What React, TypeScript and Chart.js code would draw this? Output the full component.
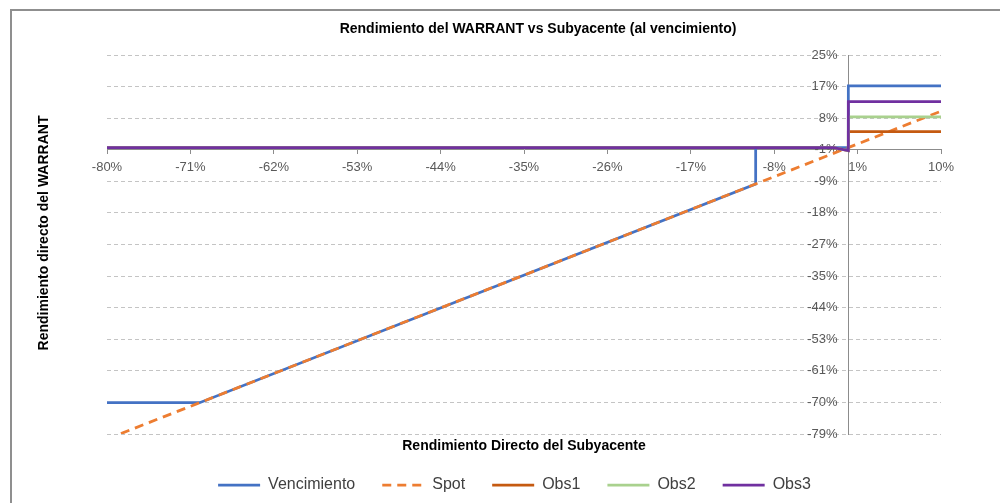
import React, { useEffect, useRef } from "react";
import { Chart, registerables } from "chart.js";

Chart.register(...registerables);

// ---- data ----
const chartTitle = "Rendimiento del WARRANT vs Subyacente (al vencimiento)";
const xAxisTitle = "Rendimiento Directo del Subyacente";
const yAxisTitle = "Rendimiento directo del WARRANT";

const xTickValues = [-80, -71, -62, -53, -44, -35, -26, -17, -8, 1, 10];
const xTickLabels = ["-80%", "-71%", "-62%", "-53%", "-44%", "-35%", "-26%", "-17%", "-8%", "1%", "10%"];
const yMax = 25.4;
const yMin = -78.6;
const yTickLabels = ["25%", "17%", "8%", "-1%", "-9%", "-18%", "-27%", "-35%", "-44%", "-53%", "-61%", "-70%", "-79%"];
const xAxisCross = -0.6; // value of y where the horizontal axis crosses

const vencX = [-80, -70, -10, -10, 0, 0, 10];
const vencY = [-70, -70, -10, 0, 0, 16.9, 16.9];
const spotX = [-80, 10];
const spotY = [-80, 10];
const obsX = [-80, -1.6, 0, 0, 10];
const obs1Y = [0, 0, -0.8, 4.4, 4.4];
const obs2Y = [0, 0, -0.8, 8.4, 8.4];
const obs3Y = [0, 0, -0.8, 12.6, 12.6];

const seriesNames = ["Vencimiento", "Spot", "Obs1", "Obs2", "Obs3"];
const seriesColors = ["#4472C4", "#ED7D31", "#C55A11", "#A9D18E", "#7030A0"];

const FONT = '"Liberation Sans", Arial, sans-serif';

const pts = (xs: number[], ys: number[]) => xs.map((x, i) => ({ x, y: ys[i] }));

const titlesPlugin = {
  id: "textTitles",
  afterDraw(chart: any) {
    const ctx = chart.ctx;
    ctx.save();
    ctx.fillStyle = "#000000";
    ctx.font = `bold 14px ${FONT}`;
    ctx.textAlign = "center";
    ctx.textBaseline = "middle";
    ctx.fillText(chartTitle, 538, 29);
    ctx.translate(44, 233);
    ctx.rotate(-Math.PI / 2);
    ctx.fillText(yAxisTitle, 0, 0);
    ctx.restore();
  },
};

export default function App() {
  const ref = useRef<HTMLCanvasElement | null>(null);

  useEffect(() => {
    if (!ref.current) return;
    const yStep = (yMax - yMin) / (yTickLabels.length - 1);
    const mk = (i: number, data: any[], extra: any = {}) => ({
      label: seriesNames[i],
      data,
      borderColor: seriesColors[i],
      backgroundColor: seriesColors[i],
      borderWidth: 2.75,
      pointRadius: 0,
      tension: 0,
      order: 5 - i,
      ...extra,
    });
    const chart = new Chart(ref.current, {
      type: "line",
      data: {
        datasets: [
          mk(0, pts(vencX, vencY)),
          mk(1, pts(spotX, spotY), { borderDash: [9, 6] }),
          mk(2, pts(obsX, obs1Y)),
          mk(3, pts(obsX, obs2Y)),
          mk(4, pts(obsX, obs3Y)),
        ],
      },
      options: {
        animation: false,
        responsive: false,
        layout: { padding: { left: 88, right: 59, top: 55, bottom: 0 } },
        plugins: {
          title: { display: false },
          tooltip: { enabled: false },
          legend: {
            position: "bottom",
            labels: {
              font: { family: FONT, size: 16 },
              color: "#404040",
              boxWidth: 42,
              boxHeight: 0,
              padding: 27,
              sort: (a: any, b: any) => a.datasetIndex - b.datasetIndex,
              generateLabels: (c: any) => {
                const items = Chart.defaults.plugins.legend.labels.generateLabels(c);
                items.forEach((it: any) => {
                  it.fillStyle = "rgba(0,0,0,0)";
                  it.lineWidth = 2.75;
                });
                return items;
              },
            },
          },
        },
        scales: {
          x: {
            type: "linear",
            min: xTickValues[0],
            max: xTickValues[xTickValues.length - 1],
            position: { y: xAxisCross } as any,
            afterBuildTicks: (s: any) => {
              s.ticks = xTickValues.map((v) => ({ value: v }));
            },
            ticks: {
              callback: (_v: any, i: number) => xTickLabels[i],
              font: { family: FONT, size: 13 },
              color: "#595959",
              padding: 6,
              maxRotation: 0,
              autoSkip: false,
            },
            grid: { drawOnChartArea: false, drawTicks: true, tickLength: 4, tickColor: "#8c8c8c" },
            border: { display: true, color: "#8c8c8c", width: 1 },
          },
          y: {
            type: "linear",
            min: yMin,
            max: yMax,
            position: { x: 0 } as any,
            afterBuildTicks: (s: any) => {
              s.ticks = yTickLabels.map((_l, i) => ({ value: yMax - i * yStep }));
            },
            ticks: {
              callback: (_v: any, i: number) => yTickLabels[i] + "   ",
              font: { family: FONT, size: 13 },
              color: "#595959",
              autoSkip: false,
            },
            grid: { color: "#c4c4c4", drawTicks: false, lineWidth: 1 },
            border: { display: true, color: "#8c8c8c", width: 1, dash: [4, 3] },
          },
          xt: {
            type: "linear",
            axis: "x",
            position: "bottom",
            ticks: { display: false },
            grid: { display: false, drawTicks: false },
            border: { display: false },
            title: {
              display: true,
              text: xAxisTitle,
              color: "#000000",
              font: { family: FONT, size: 14, weight: "bold" },
              padding: { top: 0, bottom: -5 },
            },
            afterFit: (s: any) => {
              s.height = 16;
            },
          },
          yt: {
            type: "linear",
            axis: "y",
            position: "left",
            ticks: { display: false },
            grid: { display: false, drawTicks: false },
            border: { display: false },
            afterFit: (s: any) => {
              s.width = 19;
            },
          },
        },
      } as any,
      plugins: [titlesPlugin],
    });
    return () => chart.destroy();
  }, []);

  return (
    <div style={{ position: "absolute", left: 0, top: 0, width: 1000, height: 503, overflow: "hidden", background: "#ffffff" }}>
      <div
        style={{
          position: "absolute",
          left: 10,
          top: 9,
          width: 1100,
          height: 600,
          borderTop: "2px solid #8f8f8f",
          borderLeft: "2px solid #8f8f8f",
        }}
      />
      <canvas ref={ref} width={1000} height={503} style={{ position: "absolute", left: 0, top: 0 }} />
    </div>
  );
}
